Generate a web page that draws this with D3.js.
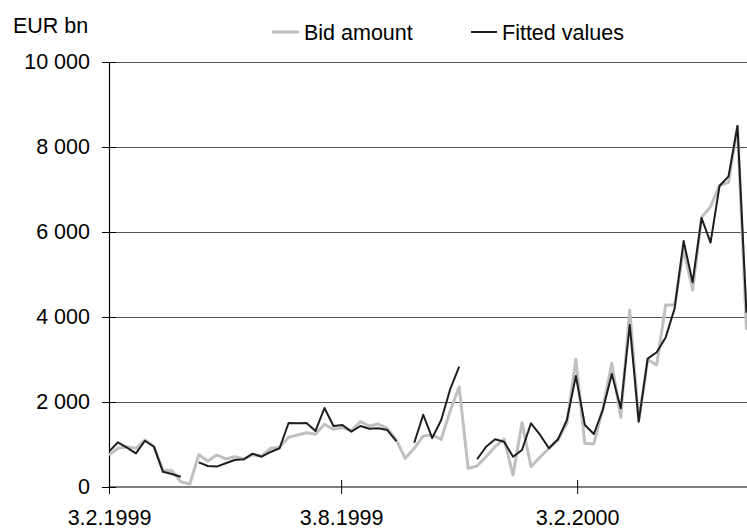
<!DOCTYPE html>
<html><head><meta charset="utf-8">
<script src="https://cdn.jsdelivr.net/npm/d3@7"></script>
<style>
html,body{margin:0;padding:0;background:#fff;}
svg{display:block;font-family:"Liberation Sans",Arial,sans-serif;}
</style></head>
<body><svg id="chart" width="747" height="529"></svg>
<script>
const dates = ["1999-02-03","1999-02-10","1999-02-17","1999-02-24","1999-03-03","1999-03-10","1999-03-17","1999-03-24","1999-03-31",
"1999-04-07","1999-04-14","1999-04-21","1999-04-28","1999-05-05","1999-05-12","1999-05-19","1999-05-26",
"1999-06-02","1999-06-09","1999-06-16","1999-06-23","1999-06-30","1999-07-07","1999-07-14","1999-07-21","1999-07-28",
"1999-08-04","1999-08-11","1999-08-18","1999-08-25","1999-09-01","1999-09-08","1999-09-15","1999-09-22","1999-09-29",
"1999-10-06","1999-10-13","1999-10-20","1999-10-27","1999-11-03","1999-11-10","1999-11-17","1999-11-24",
"1999-12-01","1999-12-08","1999-12-15","1999-12-22","1999-12-29","2000-01-05","2000-01-12","2000-01-19","2000-01-26",
"2000-02-02","2000-02-09","2000-02-16","2000-02-23","2000-03-01","2000-03-08","2000-03-15","2000-03-22","2000-03-29",
"2000-04-05","2000-04-12","2000-04-19","2000-04-26","2000-05-03","2000-05-10","2000-05-17","2000-05-24","2000-05-31",
"2000-06-07","2000-06-14"];
const bidAmount = [750,911,948,911,1106,960,400,384,125,70,
760,612,753,659,713,659,760,729,911,934,
1169,1224,1278,1240,1475,1357,1400,1325,1537,1435,
1482,1380,1106,675,911,1200,1224,1122,1788,2360,
440,494,713,948,1129,282,1514,478,698,911,
1100,1499,3005,1027,1012,1850,2910,1640,4165,1550,
3000,2870,4282,4282,5600,4635,6345,6596,7100,7170,
8490,3700];
const fittedValues = [831,1052,925,793,1089,948,360,306,242,null,
581,494,480,558,635,652,784,713,824,911,
1506,1499,1506,1318,1859,1435,1459,1302,1435,1372,
1381,1341,1080,null,1042,1700,1150,1576,2300,2831,
null,652,948,1122,1066,713,870,1499,1231,911,
1122,1576,2612,1459,1247,1812,2659,1851,3812,1537,
3020,3170,3520,4204,5788,4820,6330,5749,7082,7310,
8494,4100];
const yTicks = [0,2000,4000,6000,8000,10000];
const xTickDates = ["1999-02-03","1999-08-03","2000-02-03"];
const xTickLabels = ["3.2.1999","3.8.1999","3.2.2000"];
const seriesNames = ["Bid amount","Fitted values"];
const unitLabel = "EUR bn";

const parse = d3.timeParse("%Y-%m-%d");
const svg = d3.select("#chart");
const mLeft = 109, mRight = 747, mTop = 62, mBottom = 487;
const fs = "21.5px";

const x = d3.scaleTime()
  .domain([parse("1999-02-03"), new Date(2000,5,14,10)])
  .range([mLeft, mRight]);
const y = d3.scaleLinear().domain([0,10000]).range([mBottom, mTop]);

const fmt = v => v === 0 ? "0" : d3.format(",")(v).replace(/,/g, " ");

// gridlines
svg.append("g").selectAll("line").data(yTicks.filter(v => v > 0)).join("line")
  .attr("x1", mLeft).attr("x2", mRight)
  .attr("y1", d => y(d)).attr("y2", d => y(d))
  .attr("stroke", "#555").attr("stroke-width", 1).attr("shape-rendering","crispEdges");

// y axis
const yAxis = d3.axisLeft(y).tickValues(yTicks).tickSize(7).tickPadding(12).tickFormat(fmt);
const gy = svg.append("g").attr("transform", `translate(${mLeft},0)`).call(yAxis);
gy.attr("font-family", null).attr("font-size", null);
gy.select(".domain").attr("stroke", "#000").attr("stroke-width", 1.2);
gy.selectAll(".tick line").clone().attr("x2", 7);
gy.selectAll(".tick line").attr("stroke", "#000");
gy.selectAll(".tick text").attr("font-size", fs).attr("fill", "#000").attr("x", -19);

// x axis
const xAxis = d3.axisBottom(x).tickValues(xTickDates.map(parse)).tickSize(7).tickPadding(16)
  .tickFormat((d,i) => xTickLabels[i]);
const gx = svg.append("g").attr("transform", `translate(0,${mBottom})`).call(xAxis);
gx.attr("font-family", null).attr("font-size", null);
gx.select(".domain").attr("stroke", "#000").attr("stroke-width", 1.2).attr("d", `M${mLeft},0H${mRight}`);
gx.selectAll(".tick line").clone().attr("y2", -7);
gx.selectAll(".tick line").attr("stroke", "#000");
gx.selectAll(".tick text").attr("font-size", fs).attr("fill", "#000");

const data = dates.map((d,i) => ({date: parse(d), bid: bidAmount[i], fit: fittedValues[i]}));

svg.append("defs").append("clipPath").attr("id","clip")
  .append("rect").attr("x", mLeft).attr("y", 0).attr("width", mRight-mLeft).attr("height", mBottom);

const lineBid = d3.line().x(d => x(d.date)).y(d => y(d.bid)).defined(d => d.bid != null);
const lineFit = d3.line().x(d => x(d.date)).y(d => y(d.fit)).defined(d => d.fit != null);

svg.append("path").datum(data).attr("d", lineBid).attr("clip-path","url(#clip)")
  .attr("fill","none").attr("stroke","#c0c0c0").attr("stroke-width",3).attr("stroke-linejoin","round");
svg.append("path").datum(data).attr("d", lineFit).attr("clip-path","url(#clip)")
  .attr("fill","none").attr("stroke","#1e1e1e").attr("stroke-width",2).attr("stroke-linejoin","round");

// unit label
svg.append("text").attr("x", 13).attr("y", 33).attr("font-size", fs).attr("fill","#000").text(unitLabel);

// legend
const legend = [{x1:272, x2:299, tx:304, color:"#c0c0c0", w:3, name:seriesNames[0]},
                {x1:471, x2:497, tx:502, color:"#1e1e1e", w:2, name:seriesNames[1]}];
const lg = svg.append("g");
lg.selectAll("line").data(legend).join("line")
  .attr("x1", d => d.x1).attr("x2", d => d.x2).attr("y1", 32).attr("y2", 32)
  .attr("stroke", d => d.color).attr("stroke-width", d => d.w);
lg.selectAll("text").data(legend).join("text")
  .attr("x", d => d.tx).attr("y", 40).attr("font-size", fs).attr("fill","#000").text(d => d.name);
</script></body></html>
